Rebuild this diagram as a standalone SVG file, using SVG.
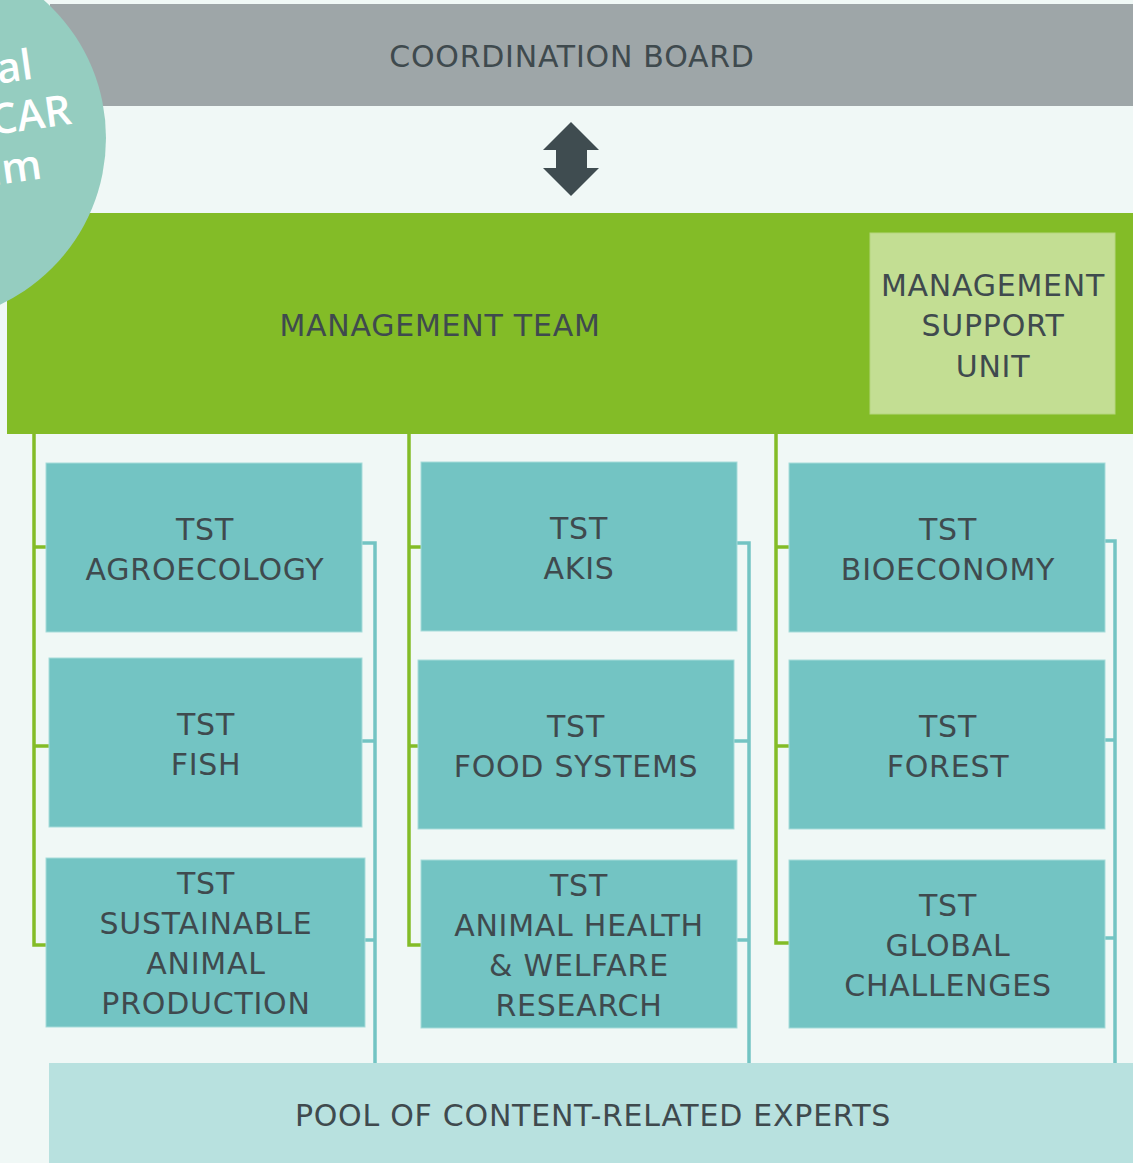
<svg xmlns="http://www.w3.org/2000/svg" width="1133" height="1163" viewBox="0 0 1133 1163">
<style>
.t{font-family:"DejaVu Sans","Verdana",sans-serif;font-size:30px;letter-spacing:0.75px;fill:#3f4a4e;text-anchor:middle}
.tst{fill:#73c4c3;stroke:#a6dbd9;stroke-width:1}
.gl{stroke:#83bc27;stroke-width:3.5;fill:none}
.tl{stroke:#73c4c3;stroke-width:3.5;fill:none}
.c{font-family:"Open Sans","Liberation Sans",sans-serif;font-size:42px;font-weight:600;fill:#ffffff}
</style>
<rect width="1133" height="1163" fill="#f0f8f6"/>
<g id="coordination-board">
<rect x="50" y="4" width="1083" height="102" fill="#9ea6a8"/>
<text class="t" x="572" y="67">COORDINATION BOARD</text>
</g>
<g id="management-team">
<rect x="7" y="213" width="1126" height="221" fill="#83bc27"/>
<text class="t" x="440" y="336">MANAGEMENT TEAM</text>
</g>
<g id="circle">
<circle cx="-78" cy="138" r="184" fill="#95cdc0"/>
<g transform="rotate(-8 0 130)">
<text class="c" x="41" y="84" text-anchor="end">al</text>
<text class="c" x="73" y="134" text-anchor="end">CAR</text>
<text class="c" x="36" y="184" text-anchor="end">ım</text>
</g>
</g>
<g id="management-support-unit">
<rect x="870" y="233" width="245" height="181" fill="#c3de93" stroke="#b5d67f" stroke-width="1"/>
<text class="t" x="993" y="296">MANAGEMENT</text>
<text class="t" x="993" y="336">SUPPORT</text>
<text class="t" x="993" y="377">UNIT</text>
</g>
<g id="connectors">
<path class="gl" d="M34 434V945H46M34 547H46M34 746H49"/>
<path class="gl" d="M409 434V945H421M409 547H421M409 746H418"/>
<path class="gl" d="M776 434V943H789M776 547H789M776 746H789"/>
<path class="tl" d="M362 543H375V1063M362 741H375M365 940H375"/>
<path class="tl" d="M737 543H749V1063M734 741H749M737 940H749"/>
<path class="tl" d="M1105 541H1115V1063M1105 740H1115M1105 938H1115"/>
<path d="M571 122L599 150H587V168H599L571 196L543 168H556V150H543Z" fill="#3f4c50"/>
</g>
<g id="tst-agroecology">
<rect class="tst" x="46" y="463" width="316" height="169"/>
<text class="t" x="205" y="540">TST</text>
<text class="t" x="205" y="580">AGROECOLOGY</text>
</g>
<g id="tst-fish">
<rect class="tst" x="49" y="658" width="313" height="169"/>
<text class="t" x="206" y="735">TST</text>
<text class="t" x="206" y="775">FISH</text>
</g>
<g id="tst-sustainable-animal-production">
<rect class="tst" x="46" y="858" width="319" height="169"/>
<text class="t" x="206" y="894">TST</text>
<text class="t" x="206" y="934">SUSTAINABLE</text>
<text class="t" x="206" y="974">ANIMAL</text>
<text class="t" x="206" y="1014">PRODUCTION</text>
</g>
<g id="tst-akis">
<rect class="tst" x="421" y="462" width="316" height="169"/>
<text class="t" x="579" y="539">TST</text>
<text class="t" x="579" y="579">AKIS</text>
</g>
<g id="tst-food-systems">
<rect class="tst" x="418" y="660" width="316" height="169"/>
<text class="t" x="576" y="737">TST</text>
<text class="t" x="576" y="777">FOOD SYSTEMS</text>
</g>
<g id="tst-animal-health">
<rect class="tst" x="421" y="860" width="316" height="168"/>
<text class="t" x="579" y="896">TST</text>
<text class="t" x="579" y="936">ANIMAL HEALTH</text>
<text class="t" x="579" y="976">&amp; WELFARE</text>
<text class="t" x="579" y="1016">RESEARCH</text>
</g>
<g id="tst-bioeconomy">
<rect class="tst" x="789" y="463" width="316" height="169"/>
<text class="t" x="948" y="540">TST</text>
<text class="t" x="948" y="580">BIOECONOMY</text>
</g>
<g id="tst-forest">
<rect class="tst" x="789" y="660" width="316" height="169"/>
<text class="t" x="948" y="737">TST</text>
<text class="t" x="948" y="777">FOREST</text>
</g>
<g id="tst-global-challenges">
<rect class="tst" x="789" y="860" width="316" height="168"/>
<text class="t" x="948" y="916">TST</text>
<text class="t" x="948" y="956">GLOBAL</text>
<text class="t" x="948" y="996">CHALLENGES</text>
</g>
<g id="pool">
<rect x="49" y="1063" width="1084" height="100" fill="#b8e1df"/>
<text class="t" x="593" y="1126">POOL OF CONTENT-RELATED EXPERTS</text>
</g>
</svg>
